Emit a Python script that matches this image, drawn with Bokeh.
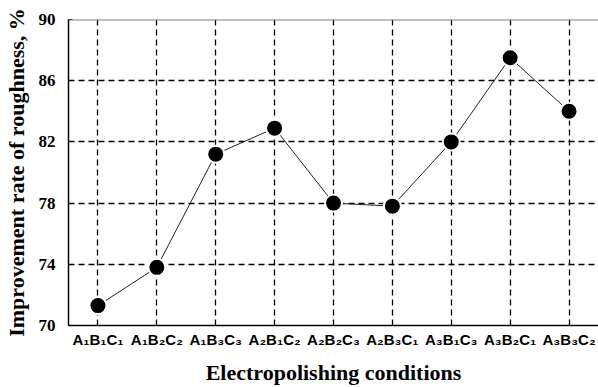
from bokeh.plotting import figure
from bokeh.models import FactorRange, Range1d, FixedTicker, Span
from bokeh.embed import file_html
from bokeh.resources import INLINE

conditions = ["A₁B₁C₁", "A₁B₂C₂", "A₁B₃C₃", "A₂B₁C₂", "A₂B₂C₃",
              "A₂B₃C₁", "A₃B₁C₃", "A₃B₂C₁", "A₃B₃C₂"]
improvement = [71.3, 73.8, 81.2, 82.9, 78.0, 77.8, 82.0, 87.5, 84.0]
y_ticks = [70, 74, 78, 82, 86, 90]

p = figure(width=598, height=387,
           x_range=FactorRange(*conditions),
           y_range=Range1d(70, 90),
           output_backend="svg", toolbar_location=None,
           min_border_left=63, min_border_right=0,
           min_border_top=19, min_border_bottom=62)

p.background_fill_color = "white"
p.border_fill_color = "white"
p.outline_line_color = None

for g in (p.xgrid, p.ygrid):
    g.grid_line_color = "black"
    g.grid_line_dash = "6 4"
    g.grid_line_width = 1.3

top_border = Span(location=90, dimension="width", line_color="#808080", line_width=2)
p.add_layout(top_border)

p.yaxis.ticker = FixedTicker(ticks=y_ticks)
p.yaxis.axis_label = "Improvement rate of roughness, %"
p.xaxis.axis_label = "Electropolishing conditions"

for ax in (p.xaxis, p.yaxis):
    ax.axis_line_color = "black"
    ax.axis_line_width = 1.5
    ax.major_tick_in = 4
    ax.major_tick_out = 0
    ax.minor_tick_line_color = None
    ax.axis_label_text_font = "Liberation Serif"
    ax.axis_label_text_font_style = "bold"
    ax.axis_label_text_color = "black"
    ax.axis_label_text_font_size = "22px"

p.yaxis.major_label_text_font = "Liberation Serif"
p.yaxis.major_label_text_font_style = "bold"
p.yaxis.major_label_text_font_size = "17px"
p.yaxis.major_label_text_color = "black"
p.yaxis.major_label_standoff = 13
p.yaxis.axis_label_standoff = 7

p.xaxis.major_label_text_font = "Liberation Sans"
p.xaxis.major_label_text_font_style = "bold"
p.xaxis.major_label_text_font_size = "15px"
p.xaxis.major_label_text_color = "black"
p.xaxis.major_label_standoff = 5
p.xaxis.axis_label_standoff = 9

p.line(conditions, improvement, line_color="#222222", line_width=1)
p.scatter(conditions, improvement, size=17, fill_color="black",
          line_color="white", line_width=2)

open("out.html", "w").write(file_html(p, INLINE))
